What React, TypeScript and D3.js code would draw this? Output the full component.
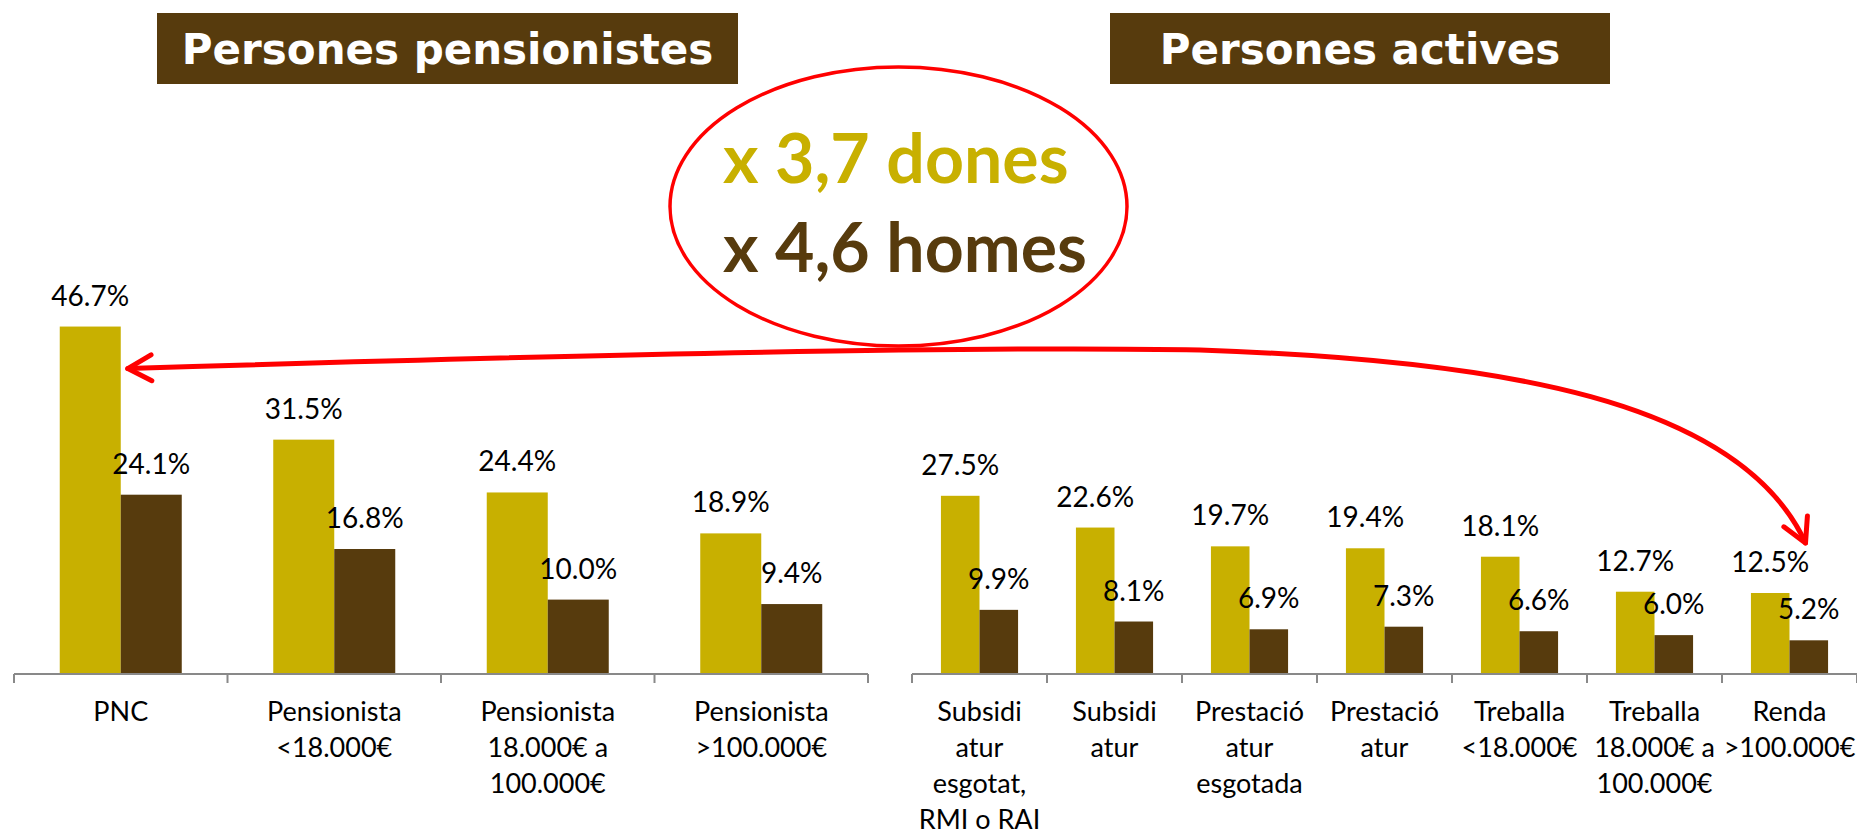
import React, { useEffect } from "react";
import * as d3 from "d3";

// ---------- data ----------
const seriesKeys = ["dones", "homes"];
const leftCategories = [
  "PNC",
  "Pensionista\n<18.000€",
  "Pensionista\n18.000€ a\n100.000€",
  "Pensionista\n>100.000€",
];
const leftDones = [46.7, 31.5, 24.4, 18.9];
const leftHomes = [24.1, 16.8, 10.0, 9.4];

const rightCategories = [
  "Subsidi\natur\nesgotat,\nRMI o RAI",
  "Subsidi\natur",
  "Prestació\natur\nesgotada",
  "Prestació\natur",
  "Treballa\n<18.000€",
  "Treballa\n18.000€ a\n100.000€",
  "Renda\n>100.000€",
];
const rightDones = [27.5, 22.6, 19.7, 19.4, 18.1, 12.7, 12.5];
const rightHomes = [9.9, 8.1, 6.9, 7.3, 6.6, 6.0, 5.2];

const titles = ["Persones pensionistes", "Persones actives"];
const calloutLines = ["x 3,7 dones", "x 4,6 homes"];

// ---------- styles ----------
const W = 1857;
const H = 830;
const GOLD = "#C8B000";
const BROWN = "#573B0D";
const RED = "#FF0000";
const AXIS_Y = 674;
const LABEL_FONT = "Lato, 'Open Sans', sans-serif";
const TITLE_FONT = "'DejaVu Sans', Verdana, sans-serif";
const fmt = (v: number) => d3.format(".1f")(v) + "%";

function makePanel(cats: string[], x0: number, x1: number, yMax: number, pxPerUnit: number) {
  const band = d3.scaleBand<string>().domain(cats).range([x0, x1]).paddingInner(0).paddingOuter(0);
  const inner = d3
    .scaleBand<string>()
    .domain(seriesKeys)
    .range([0, band.bandwidth()])
    .paddingInner(0)
    .paddingOuter(0.75);
  const y = d3.scaleLinear().domain([0, yMax]).range([AXIS_Y, AXIS_Y - yMax * pxPerUnit]);
  return { band, inner, y, x0, x1 };
}

function Panel({ p, cats, dones, homes }: any) {
  const { band, inner, y, x0, x1 } = p;
  const series = [
    { key: "dones", values: dones, color: GOLD },
    { key: "homes", values: homes, color: BROWN },
  ];
  const ticks = [...cats.map((c: string) => band(c)), x1];
  return (
    <g>
      {series.map((s) =>
        cats.map((c: string, i: number) => {
          const bx = band(c) + inner(s.key);
          const v = s.values[i];
          return (
            <rect
              key={s.key + i}
              x={bx}
              y={y(v)}
              width={inner.bandwidth()}
              height={AXIS_Y - y(v)}
              fill={s.color}
            />
          );
        })
      )}
      <line x1={x0} x2={x1} y1={AXIS_Y} y2={AXIS_Y} stroke="#898989" strokeWidth={2} />
      {ticks.map((t: number, i: number) => (
        <line key={"t" + i} x1={t} x2={t} y1={AXIS_Y} y2={AXIS_Y + 9} stroke="#898989" strokeWidth={2} />
      ))}
      {series.map((s) =>
        cats.map((c: string, i: number) => {
          const v = s.values[i];
          const cx = band(c) + inner(s.key) + inner.bandwidth() / 2;
          return (
            <text
              key={"l" + s.key + i}
              x={cx}
              y={y(v) - 21}
              textAnchor="middle"
              fontFamily={LABEL_FONT}
              fontSize={28}
              fill="#000"
            >
              {fmt(v)}
            </text>
          );
        })
      )}
      {cats.map((c: string, i: number) => (
        <text
          key={"c" + i}
          textAnchor="middle"
          fontFamily={LABEL_FONT}
          fontSize={27}
          fill="#000"
        >
          {c.split("\n").map((line, j) => (
            <tspan key={j} x={band(c) + band.bandwidth() / 2} y={721 + j * 36}>
              {line}
            </tspan>
          ))}
        </text>
      ))}
    </g>
  );
}

function arrowHead(tx: number, ty: number, dx: number, dy: number, len = 27, ang = 0.5) {
  const n = Math.hypot(dx, dy);
  const ux = dx / n;
  const uy = dy / n;
  const rot = (a: number) => [ux * Math.cos(a) - uy * Math.sin(a), ux * Math.sin(a) + uy * Math.cos(a)];
  const [ax, ay] = rot(ang);
  const [bx, by] = rot(-ang);
  return `M${tx - len * ax},${ty - len * ay}L${tx},${ty}L${tx - len * bx},${ty - len * by}`;
}

export default function App() {
  useEffect(() => {
    document.body.style.margin = "0";
    document.body.style.overflow = "hidden";
  }, []);

  const left = makePanel(leftCategories, 14, 868, 50, 7.44);
  const right = makePanel(rightCategories, 912, 1857, 30, 6.48);

  // arrow endpoints derived from the bars they point at
  const lc = leftCategories[0];
  const sx = left.band(lc)! + left.inner("dones")! + left.inner.bandwidth() + 7;
  const sy = left.y(leftDones[0]) + 42;
  const rc = rightCategories[rightCategories.length - 1];
  const ex = right.band(rc)! + right.inner("homes")! + 16;
  const ey = right.y(rightDones[rightDones.length - 1]) - 50;

  const c1 = [600, 354];
  const c2 = [1000, 346];
  const mid = [1200, 350];
  const c3 = [1500, 360];
  const c4 = [1740, 400];
  const path = d3.path();
  path.moveTo(sx, sy);
  path.bezierCurveTo(c1[0], c1[1], c2[0], c2[1], mid[0], mid[1]);
  path.bezierCurveTo(c3[0], c3[1], c4[0], c4[1], ex, ey);

  return (
    <svg width={W} height={H} style={{ position: "absolute", left: 0, top: 0, background: "#fff" }}>
      <rect x={0} y={0} width={W} height={H} fill="#fff" />
      {/* titles */}
      <rect x={157} y={13} width={581} height={71} fill={BROWN} />
      <text x={447.5} y={64} textAnchor="middle" fontFamily={TITLE_FONT} fontWeight="bold" fontSize={42} fill="#fff">
        {titles[0]}
      </text>
      <rect x={1110} y={13} width={500} height={71} fill={BROWN} />
      <text x={1360} y={64} textAnchor="middle" fontFamily={TITLE_FONT} fontWeight="bold" fontSize={42} fill="#fff">
        {titles[1]}
      </text>

      <Panel p={left} cats={leftCategories} dones={leftDones} homes={leftHomes} />
      <Panel p={right} cats={rightCategories} dones={rightDones} homes={rightHomes} />

      {/* arrow */}
      <path d={path.toString()} fill="none" stroke={RED} strokeWidth={5} strokeLinecap="round" />
      <path
        d={arrowHead(sx, sy, sx - c1[0], sy - c1[1])}
        fill="none"
        stroke={RED}
        strokeWidth={5}
        strokeLinecap="round"
        strokeLinejoin="round"
      />
      <path
        d={arrowHead(ex, ey, ex - c4[0], ey - c4[1])}
        fill="none"
        stroke={RED}
        strokeWidth={5}
        strokeLinecap="round"
        strokeLinejoin="round"
      />

      {/* callout */}
      <ellipse cx={898.5} cy={206.5} rx={228.5} ry={139.5} fill="none" stroke={RED} strokeWidth={3.5} />
      <text x={723} y={183} fontFamily={LABEL_FONT} fontWeight="bold" fontSize={68} fill={GOLD}>
        {calloutLines[0]}
      </text>
      <text x={723} y={272} fontFamily={LABEL_FONT} fontWeight="bold" fontSize={68} fill={BROWN}>
        {calloutLines[1]}
      </text>
    </svg>
  );
}
